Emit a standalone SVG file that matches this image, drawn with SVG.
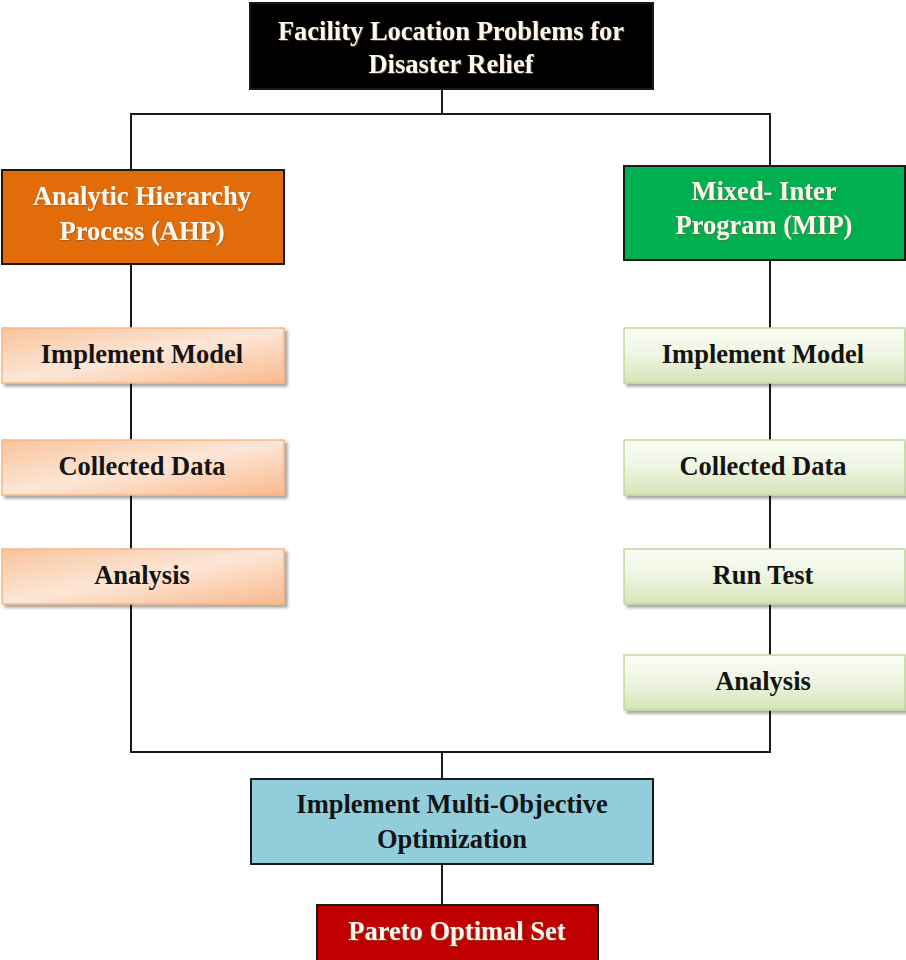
<svg xmlns="http://www.w3.org/2000/svg" width="906" height="960" viewBox="0 0 906 960">
<defs>
<linearGradient id="gOr" x1="0" y1="0" x2="1" y2="1">
<stop offset="0" stop-color="#f8c49c"/>
<stop offset="0.5" stop-color="#fde6d6"/>
<stop offset="1" stop-color="#f9b98c"/>
</linearGradient>
<linearGradient id="gGr" x1="0" y1="0" x2="0" y2="1">
<stop offset="0" stop-color="#fbfdf6"/>
<stop offset="0.5" stop-color="#eef4e0"/>
<stop offset="1" stop-color="#d5e3b8"/>
</linearGradient>
<filter id="sh" x="-5%" y="-10%" width="115%" height="130%">
<feDropShadow dx="3" dy="3" stdDeviation="1.5" flood-color="#000" flood-opacity="0.35"/>
</filter>
<filter id="ts" x="-5%" y="-20%" width="110%" height="140%">
<feDropShadow dx="1" dy="1" stdDeviation="0.6" flood-color="#7a5a3a" flood-opacity="0.6"/>
</filter>
</defs>
<style>
text{font-family:"Liberation Serif","Times New Roman",serif;font-weight:bold;font-size:26.5px;text-anchor:middle}
.lt{fill:#fff8ee;filter:url(#ts)}
.dk{fill:#141414}
.or{fill:url(#gOr);stroke:#f7b482;stroke-width:1.5;filter:url(#sh)}
.gr{fill:url(#gGr);stroke:#c3d69b;stroke-width:1.5;filter:url(#sh)}
.hd{stroke:#1a1a1a;stroke-width:2}
#connectors path{fill:none;stroke:#1a1a1a;stroke-width:2}
</style>
<g id="connectors">
<path d="M442,89 V114 M131,170 V114 H770 V166"/>
<path d="M131,264 V605 M770,260 V711"/>
<path d="M131,605 V752 H770 V711 M442,752 V779"/>
<path d="M442,864 V905"/>
</g>
<g id="n-top">
<rect class="hd" x="250" y="3" width="403" height="86" fill="#000"/>
<text class="lt" x="451" y="40">Facility Location Problems for</text>
<text class="lt" x="451" y="73">Disaster Relief</text>
</g>
<g id="n-ahp">
<rect class="hd" x="2" y="170" width="282" height="94" fill="#e36c0a"/>
<text class="lt" x="142" y="205">Analytic Hierarchy</text>
<text class="lt" x="142" y="240">Process (AHP)</text>
</g>
<g id="n-mip">
<rect class="hd" x="624" y="166" width="281" height="94" fill="#00b050"/>
<text class="lt" x="764" y="200">Mixed- Inter</text>
<text class="lt" x="764" y="234">Program (MIP)</text>
</g>
<g id="n-l1">
<rect class="or" x="2" y="328" width="282" height="55"/>
<text class="dk" x="142" y="363">Implement Model</text>
</g>
<g id="n-l2">
<rect class="or" x="2" y="440" width="282" height="55"/>
<text class="dk" x="142" y="475">Collected Data</text>
</g>
<g id="n-l3">
<rect class="or" x="2" y="549" width="282" height="55"/>
<text class="dk" x="142" y="584">Analysis</text>
</g>
<g id="n-r1">
<rect class="gr" x="624" y="328" width="281" height="55"/>
<text class="dk" x="763" y="363">Implement Model</text>
</g>
<g id="n-r2">
<rect class="gr" x="624" y="440" width="281" height="55"/>
<text class="dk" x="763" y="475">Collected Data</text>
</g>
<g id="n-r3">
<rect class="gr" x="624" y="549" width="281" height="55"/>
<text class="dk" x="763" y="584">Run Test</text>
</g>
<g id="n-r4">
<rect class="gr" x="624" y="655" width="281" height="55"/>
<text class="dk" x="763" y="690">Analysis</text>
</g>
<g id="n-moo">
<rect class="hd" x="251" y="779" width="402" height="85" fill="#92cddc"/>
<text class="dk" x="452" y="813">Implement Multi-Objective</text>
<text class="dk" x="452" y="848">Optimization</text>
</g>
<g id="n-pareto">
<rect class="hd" x="317" y="905" width="281" height="60" fill="#c00000"/>
<text class="lt" x="457" y="940">Pareto Optimal Set</text>
</g>
</svg>
